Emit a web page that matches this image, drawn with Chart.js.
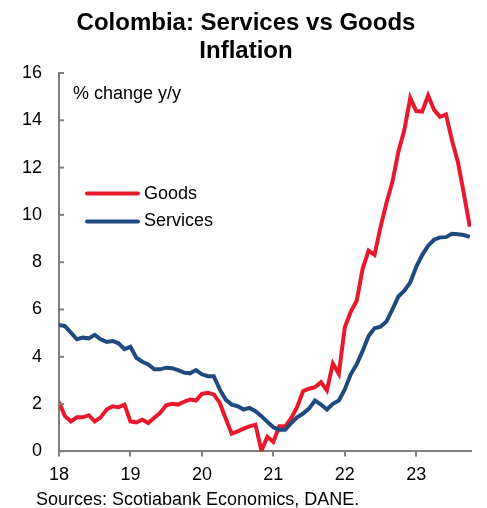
<!DOCTYPE html>
<html>
<head>
<meta charset="utf-8">
<script src="https://cdn.jsdelivr.net/npm/chart.js@4.4.0/dist/chart.umd.min.js"></script>
<style>
  html, body { margin: 0; padding: 0; background: #fff; }
  #wrap { width: 487px; height: 508px; position: relative; }
</style>
</head>
<body>
<div id="wrap"><canvas id="myChart"></canvas></div>
<script>
// monthly y/y inflation, Jan 2018 .. Oct 2023
const startYear = 2018;
const yearLabels = ['18', '19', '20', '21', '22', '23'];

const goods = [
  2.09, 1.49, 1.27, 1.44, 1.44, 1.53, 1.27, 1.44, 1.77, 1.91, 1.87, 1.98,
  1.27, 1.23, 1.34, 1.20, 1.42, 1.63, 1.95, 2.01, 1.98, 2.10, 2.19, 2.15,
  2.43, 2.48, 2.41, 2.05, 1.39, 0.75, 0.85, 0.96, 1.06, 1.13, 0.03, 0.62,
  0.40, 1.06, 1.06, 1.40, 1.88, 2.55, 2.65, 2.72, 2.93, 2.58, 3.72, 3.28,
  5.24, 5.90, 6.37, 7.72, 8.49, 8.31, 9.48, 10.50, 11.40, 12.67, 13.59, 14.95,
  14.39, 14.37, 15.05, 14.44, 14.15, 14.25, 13.16, 12.24, 10.90, 9.50
];

const services = [
  5.35, 5.30, 5.02, 4.74, 4.81, 4.78, 4.93, 4.74, 4.63, 4.67, 4.57, 4.32,
  4.42, 3.96, 3.79, 3.68, 3.47, 3.47, 3.54, 3.52, 3.44, 3.33, 3.30, 3.44,
  3.26, 3.18, 3.18, 2.62, 2.19, 1.98, 1.91, 1.77, 1.84, 1.70, 1.49, 1.25,
  1.02, 0.92, 0.92, 1.20, 1.44, 1.60, 1.81, 2.15, 1.98, 1.77, 2.01, 2.15,
  2.62, 3.26, 3.68, 4.25, 4.88, 5.21, 5.27, 5.49, 6.00, 6.55, 6.80, 7.15,
  7.80, 8.30, 8.70, 8.95, 9.05, 9.06, 9.20, 9.18, 9.15, 9.07
];

// month categories, one per data point
const months = goods.map((v, i) => (startYear + Math.floor(i / 12)) + '-' + String(i % 12 + 1).padStart(2, '0'));

const FONT = "'Liberation Sans', Arial, sans-serif";
const AXIS = '#808080';
const RED = '#E8192C';
const BLUE = '#1F4A80';

function toPoints(arr) {
  return arr.map((v, i) => ({ x: i, y: v }));
}

// inward y ticks, in-chart labels, legend and source line
const extras = {
  id: 'extras',
  afterDraw(chart) {
    const ctx = chart.ctx;
    const area = chart.chartArea;
    const y = chart.scales.y;
    ctx.save();
    ctx.strokeStyle = AXIS;
    ctx.lineWidth = 2;
    y.ticks.forEach(t => {
      const py = y.getPixelForValue(t.value);
      ctx.beginPath();
      ctx.moveTo(area.left, py);
      ctx.lineTo(area.left + 5, py);
      ctx.stroke();
    });

    ctx.fillStyle = '#000';
    ctx.font = '18px ' + FONT;
    ctx.textBaseline = 'middle';
    ctx.textAlign = 'left';
    ctx.fillText('% change y/y', area.left + 14, y.getPixelForValue(15.1));

    const legend = [['Goods', RED, 10.9], ['Services', BLUE, 9.72]];
    legend.forEach(l => {
      const py = y.getPixelForValue(l[2]);
      ctx.strokeStyle = l[1];
      ctx.lineWidth = 4;
      ctx.lineCap = 'round';
      ctx.beginPath();
      ctx.moveTo(area.left + 28, py);
      ctx.lineTo(area.left + 79, py);
      ctx.stroke();
      ctx.fillText(l[0], area.left + 85, py);
    });

    ctx.fillText('Sources: Scotiabank Economics, DANE.', 36, 500);
    ctx.restore();
  }
};

const config = {
  type: 'line',
  data: {
    labels: months,
    datasets: [{
      label: 'Goods',
      data: toPoints(goods),
      borderColor: RED,
      borderWidth: 4,
      pointRadius: 0,
      tension: 0,
      order: 2
    }, {
      label: 'Services',
      data: toPoints(services),
      borderColor: BLUE,
      borderWidth: 4,
      pointRadius: 0,
      tension: 0,
      order: 1
    }]
  },
  options: {
    responsive: true,
    maintainAspectRatio: false,
    animation: false,
    layout: {
      padding: { left: 21, right: 16, top: 0, bottom: 14 }
    },
    scales: {
      x: {
        type: 'linear',
        min: 0,
        max: 69.2,
        afterBuildTicks: s => { s.ticks = yearLabels.map((l, i) => ({ value: i * 12 })); },
        ticks: {
          padding: 8,
          color: '#000',
          font: { family: FONT, size: 18 },
          maxRotation: 0,
          autoSkip: false,
          callback: v => yearLabels[Math.round(v / 12)]
        },
        grid: { drawOnChartArea: false, drawTicks: true, tickLength: 5, color: AXIS, lineWidth: 2 },
        border: { color: AXIS, width: 2 }
      },
      y: {
        min: 0,
        max: 16,
        afterFit: s => { s.width = 38; },
        ticks: {
          stepSize: 2,
          padding: 17,
          color: '#000',
          font: { family: FONT, size: 18 }
        },
        grid: { drawOnChartArea: false, drawTicks: false },
        border: { color: AXIS, width: 2 }
      }
    },
    plugins: {
      legend: { display: false },
      tooltip: { enabled: false },
      title: {
        display: true,
        text: ['Colombia: Services vs Goods', 'Inflation'],
        color: '#000',
        font: { family: FONT, size: 24, weight: 'bold' },
        padding: { top: 8.6, bottom: 6.8 }
      }
    }
  },
  plugins: [extras]
};

const myChart = new Chart(document.getElementById('myChart'), config);
</script>
</body>
</html>
